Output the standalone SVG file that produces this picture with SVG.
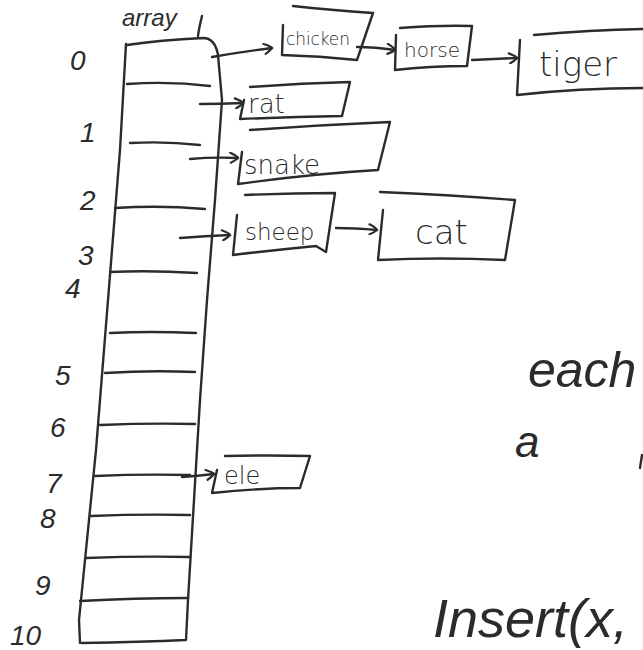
<svg xmlns="http://www.w3.org/2000/svg" width="643" height="650" viewBox="0 0 643 650">
<defs>
<style>
.s{fill:none;stroke:#2b2b2b;stroke-width:2.4;stroke-linecap:round;stroke-linejoin:round}
.t{font-family:"DejaVu Sans","Liberation Sans",sans-serif;fill:#2b2b2b;font-weight:300}
.n{font-family:"Liberation Sans","DejaVu Sans",sans-serif;fill:#2b2b2b;font-size:28px;font-style:italic}
.big{font-family:"Liberation Sans","DejaVu Sans",sans-serif;fill:#2b2b2b;font-style:italic}
</style>
<marker id="ah" viewBox="0 0 12 12" refX="10" refY="6" markerWidth="12" markerHeight="12" markerUnits="userSpaceOnUse" orient="auto">
<path d="M2,1 Q9,4 10,6 Q7,9 3,11" fill="none" stroke="#2b2b2b" stroke-width="2.2" stroke-linecap="round"/>
</marker>
</defs>
<rect width="643" height="650" fill="#fff"/>

<g id="array">
<text class="big" x="122" y="26" font-size="24">array</text>
<path class="s" d="M198,36 Q199,28 202,16"/>
<path class="s" d="M127,45 Q160,40 203,38 Q215,38 218,55 L222,100 L215,200 L207,300 L200,400 L194,500 L188,600 L186,640 Q140,642 82,643"/>
<path class="s" d="M126,44 L120,150 L112,250 L104,350 L96,450 L86,550 L79,620 L80,643"/>
<path class="s" d="M127,84 Q170,81 210,86"/>
<path class="s" d="M130,143 Q165,141 200,145"/>
<path class="s" d="M115,208 Q160,205 205,209"/>
<path class="s" d="M110,272 Q150,270 197,273"/>
<path class="s" d="M110,333 Q150,331 196,333"/>
<path class="s" d="M105,373 Q150,370 195,372"/>
<path class="s" d="M100,425 Q150,423 195,424"/>
<path class="s" d="M95,476 Q140,474 190,475"/>
<path class="s" d="M91,516 Q140,514 190,515"/>
<path class="s" d="M86,558 Q140,556 189,557"/>
<path class="s" d="M80,601 Q135,598 188,598"/>
</g>

<g id="indices">
<text class="n" x="70" y="70">0</text>
<text class="n" x="80" y="142">1</text>
<text class="n" x="80" y="210">2</text>
<text class="n" x="78" y="265">3</text>
<text class="n" x="65" y="298">4</text>
<text class="n" x="55" y="385">5</text>
<text class="n" x="50" y="437">6</text>
<text class="n" x="46" y="493">7</text>
<text class="n" x="40" y="528">8</text>
<text class="n" x="35" y="595">9</text>
<text class="n" x="10" y="645">10</text>
</g>

<g id="chicken">
<path class="s" d="M293,6 Q330,10 373,13 L357,60 Q320,56 282,55 L283,25"/>
<text class="t" x="286" y="45" font-size="17" textLength="64">chicken</text>
</g>
<g id="horse">
<path class="s" d="M400,28 Q440,25 472,26 L467,66 Q430,66 395,70 L396,35"/>
<text class="t" x="404" y="57" font-size="20" textLength="56">horse</text>
</g>
<g id="tiger">
<path class="s" d="M534,35 Q590,30 643,29 M643,88 Q580,88 517,95 L520,40"/>
<text class="t" x="539" y="76" font-size="34">tiger</text>
</g>
<g id="rat">
<path class="s" d="M250,87 Q300,83 350,82 L342,116 Q290,117 240,119 L244,100"/>
<text class="t" x="248" y="113" font-size="26">rat</text>
</g>
<g id="snake">
<path class="s" d="M250,130 Q320,125 390,122 L378,170 Q310,174 238,184 L242,152"/>
<text class="t" x="244" y="174" font-size="26">snake</text>
</g>
<g id="sheep">
<path class="s" d="M245,195 Q290,193 335,193 L326,252 L316,246 Q275,250 233,255 L237,215"/>
<text class="t" x="245" y="240" font-size="23">sheep</text>
</g>
<g id="cat">
<path class="s" d="M380,192 Q450,195 515,200 L505,260 Q440,257 378,260 L383,210"/>
<text class="t" x="415" y="244" font-size="34">cat</text>
</g>
<g id="ele">
<path class="s" d="M225,456 Q270,455 310,456 L300,488 Q260,488 212,493 L217,470"/>
<text class="t" x="224" y="484" font-size="24">ele</text>
</g>

<g id="notes">
<text class="big" x="528" y="387" font-size="50">each</text>
<text class="big" x="515" y="457" font-size="44">a</text>
<path class="s" d="M642,455 L640,468"/>
<text class="big" x="433" y="637" font-size="54">Insert(x,</text>
</g>

<g id="connectors">
<path class="s" d="M212,57 Q240,52 272,48" marker-end="url(#ah)"/>
<path class="s" d="M357,47 Q375,47 395,50" marker-end="url(#ah)"/>
<path class="s" d="M472,60 Q495,59 517,58" marker-end="url(#ah)"/>
<path class="s" d="M200,104 Q220,104 243,103" marker-end="url(#ah)"/>
<path class="s" d="M190,159 Q212,157 238,158" marker-end="url(#ah)"/>
<path class="s" d="M180,238 Q205,236 230,235" marker-end="url(#ah)"/>
<path class="s" d="M336,228 Q355,228 377,230" marker-end="url(#ah)"/>
<path class="s" d="M182,477 Q197,476 214,474" marker-end="url(#ah)"/>
</g>
</svg>
